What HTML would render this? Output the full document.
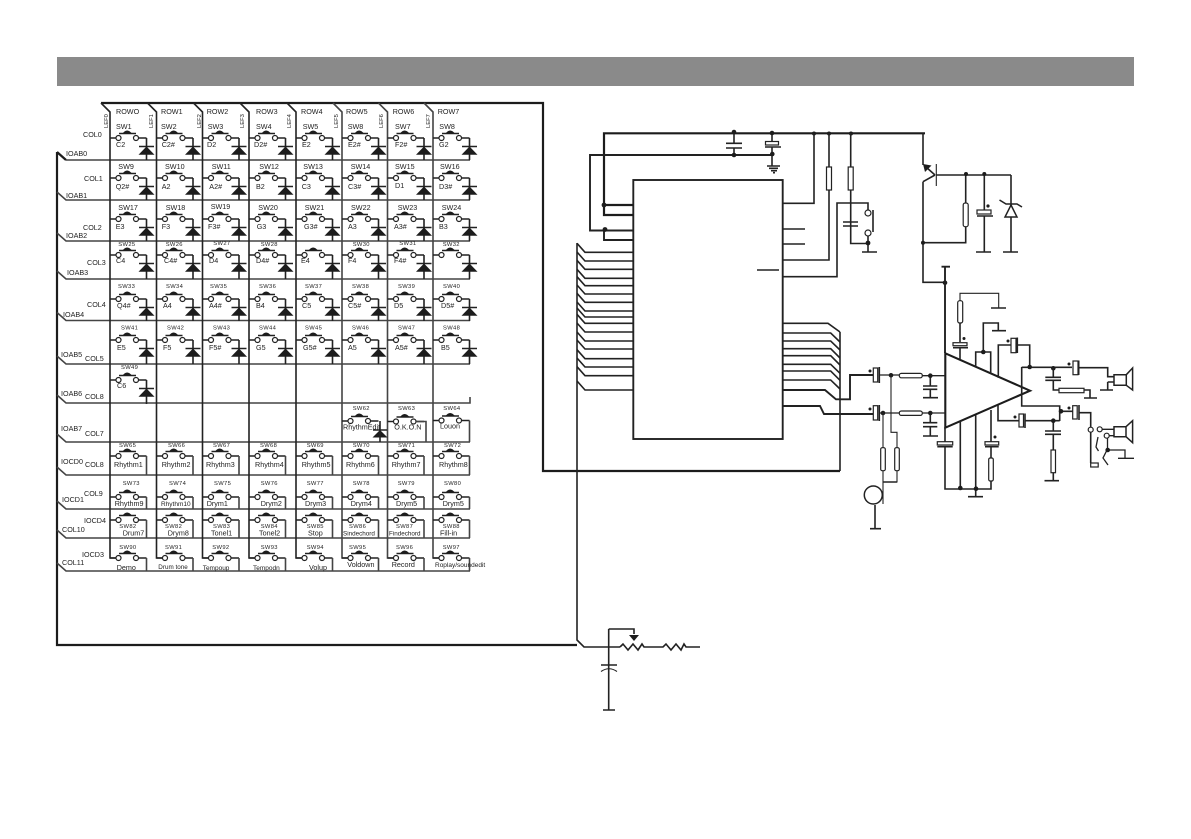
<!DOCTYPE html>
<html><head><meta charset="utf-8"><title>Schematic</title>
<style>
html,body{margin:0;padding:0;background:#fff}
svg{display:block}
text{font-family:"Liberation Sans",sans-serif;font-size:7.2px;fill:#222}
.m{font-size:5.8px;letter-spacing:.35px}
.v{font-size:5.8px}
.w{fill:none;stroke:#222;stroke-width:1.6}
.g{fill:none;stroke:#444;stroke-width:1.6}
.h{fill:none;stroke:#222;stroke-width:1.1}
.t{fill:none;stroke:#1c1c1c;stroke-width:2.2}
.f{fill:#1c1c1c;stroke:none}
.o{fill:#fff;stroke:#222;stroke-width:1.2}
</style></head><body>
<svg width="1191" height="839" viewBox="0 0 1191 839" xmlns="http://www.w3.org/2000/svg">
<defs>
<g id="n0"><path class="w" d="M0 0H6M28.500 0H36.500"/><circle class="o" cx="8.500" cy="0" r="2.500"/><circle class="o" cx="26" cy="0" r="2.500"/><path class="w" d="M9 -4.500H26"/><path class="f" d="M12.500 -4.500Q17 -10.500 22 -4.500Z"/></g>
<g id="s22"><use href="#n0"/><path class="w" d="M36.500 0V22M29 8.500H44"/><path class="f" d="M36.500 8.500L44.500 16.800H28.500Z"/></g>
<g id="s24"><use href="#n0"/><path class="w" d="M36.500 0V24M29 8.500H44"/><path class="f" d="M36.500 8.500L44.500 16.800H28.500Z"/></g>
<g id="n19"><use href="#n0"/><path class="g" d="M36.500 0V19"/></g>
<g id="n12"><use href="#n0"/><path class="g" d="M36.500 0V12"/></g>
<g id="n18"><use href="#n0"/><path class="g" d="M36.500 0V18"/></g>
<g id="n13"><use href="#n0"/><path class="g" d="M36.500 0V13"/></g>
</defs>
<rect width="1191" height="839" fill="#fff"/>
<rect x="57" y="57" width="1077" height="29" fill="#8a8a8a"/>

<!-- matrix frame -->
<path class="t" d="M101 103H543V471H840M57 152V645H577M57 152L66 160"/>
<path class="g" d="M66 160H470M57 192L66 200H470M57 233L66 241H470M57 271L66 279H470M57 312.500L66 320.500H470M57 356L66 364H470M57 395L66 403H470V397M57 434L66 442H470M57 467L66 475H470M57 501L66 509H470M57 530L66 538H470M57 563L66 571H470"/>
<path class="w" d="M101 103L110 112V558H117M147.500 103L156.500 112V558H164M193.500 103L202.500 112V558H210M240 103L249 112V558H256M287 103L296 112V558H302"/>
<path class="g" d="M333 103L342 112V558H350M378.500 103L387.500 112V558H395M424 103L433 112V558H440"/>

<text x="116" y="114">ROWO</text><text x="161" y="114">ROW1</text><text x="206.700" y="114">ROW2</text><text x="256" y="114">ROW3</text><text x="301" y="114">ROW4</text><text x="346" y="114">ROW5</text><text x="392.700" y="114">ROW6</text><text x="437.700" y="114">ROW7</text>
<text class="v" transform="translate(108,128) rotate(-90)">LEF0</text>
<text class="v" transform="translate(153,128) rotate(-90)">LEF1</text>
<text class="v" transform="translate(201,128) rotate(-90)">LEF2</text>
<text class="v" transform="translate(244,128) rotate(-90)">LEF3</text>
<text class="v" transform="translate(291,128) rotate(-90)">LEF4</text>
<text class="v" transform="translate(338,128) rotate(-90)">LEF5</text>
<text class="v" transform="translate(383,128) rotate(-90)">LEF6</text>
<text class="v" transform="translate(430,128) rotate(-90)">LEF7</text>

<text x="83" y="137">COL0</text><text x="66" y="156">IOAB0</text>
<text x="84" y="181">COL1</text><text x="66" y="198">IOAB1</text>
<text x="83" y="230">COL2</text><text x="66" y="238">IOAB2</text>
<text x="87" y="265">COL3</text><text x="67" y="275">IOAB3</text>
<text x="87" y="307">COL4</text><text x="63" y="317">IOAB4</text>
<text x="85" y="361">COL5</text><text x="61" y="357">IOAB5</text>
<text x="85" y="399">COL8</text><text x="61" y="396">IOAB6</text>
<text x="85" y="436">COL7</text><text x="61" y="431">IOAB7</text>
<text x="85" y="467">COL8</text><text x="61" y="464">IOCD0</text>
<text x="84" y="496">COL9</text><text x="62" y="502">IOCD1</text>
<text x="84" y="523">IOCD4</text><text x="62" y="532">COL10</text>
<text x="82" y="557">IOCD3</text><text x="62" y="565">COL11</text>

<!-- row 0 -->
<g transform="translate(0,138)">
<use href="#s22" x="110"/><use href="#s22" x="156.500"/><use href="#s22" x="202.500"/><use href="#s22" x="249"/><use href="#s22" x="296"/><use href="#s22" x="342"/><use href="#s22" x="387.500"/><use href="#s22" x="433"/>
<text x="116" y="-9">SW1</text><text x="161" y="-9">SW2</text><text x="207.700" y="-9">SW3</text><text x="256" y="-9">SW4</text><text x="302.700" y="-9">SW5</text><text x="347.700" y="-9">SW8</text><text x="395" y="-9">SW7</text><text x="439.300" y="-9">SW8</text>
<text x="116" y="9">C2</text><text x="161.700" y="9">C2#</text><text x="207" y="9">D2</text><text x="254" y="9">D2#</text><text x="302" y="9">E2</text><text x="348" y="9">E2#</text><text x="395" y="9">F2#</text><text x="439" y="9">G2</text>
</g>
<!-- row 1 -->
<g transform="translate(0,178)">
<use href="#s22" x="110"/><use href="#s22" x="156.500"/><use href="#s22" x="202.500"/><use href="#s22" x="249"/><use href="#s22" x="296"/><use href="#s22" x="342"/><use href="#s22" x="387.500"/><use href="#s22" x="433"/>
<text x="118.300" y="-9">SW9</text><text x="165" y="-9">SW10</text><text x="211.700" y="-9">SW11</text><text x="259.300" y="-9">SW12</text><text x="303.300" y="-9">SW13</text><text x="350.700" y="-9">SW14</text><text x="395" y="-9">SW15</text><text x="440" y="-9">SW16</text>
<text x="115.700" y="11">Q2#</text><text x="161.700" y="11">A2</text><text x="209.300" y="11">A2#</text><text x="256" y="11">B2</text><text x="301.700" y="11">C3</text><text x="348" y="11">C3#</text><text x="395" y="10">D1</text><text x="439" y="11">D3#</text>
</g>
<!-- row 2 -->
<g transform="translate(0,219)">
<use href="#s22" x="110"/><use href="#s22" x="156.500"/><use href="#s22" x="202.500"/><use href="#s22" x="249"/><use href="#s22" x="296"/><use href="#s22" x="342"/><use href="#s22" x="387.500"/><use href="#s22" x="433"/>
<text x="118.300" y="-9">SW17</text><text x="165.700" y="-9">SW18</text><text x="210.700" y="-10">SW19</text><text x="258.300" y="-9">SW20</text><text x="304.700" y="-9">SW21</text><text x="351" y="-9">SW22</text><text x="397.700" y="-9">SW23</text><text x="441.700" y="-9">SW24</text>
<text x="115.700" y="10">E3</text><text x="161.700" y="10">F3</text><text x="208" y="10">F3#</text><text x="256.700" y="10">G3</text><text x="304" y="10">G3#</text><text x="348" y="10">A3</text><text x="394" y="10">A3#</text><text x="439" y="10">B3</text>
</g>
<!-- row 3 -->
<g transform="translate(0,255)">
<use href="#s24" x="110"/><use href="#s24" x="156.500"/><use href="#s24" x="202.500"/><use href="#s24" x="249"/><use href="#s24" x="296"/><use href="#s24" x="342"/><use href="#s24" x="387.500"/><use href="#s24" x="433"/>
<text class="m" x="118.300" y="-9">SW25</text><text class="m" x="165.700" y="-9">SW26</text><text class="m" x="213.300" y="-10">SW27</text><text class="m" x="260.700" y="-9">SW28</text><text class="m" x="352.700" y="-9">SW30</text><text class="m" x="399.300" y="-10">SW31</text><text class="m" x="442.700" y="-9">SW32</text>
<text x="116" y="8">C4</text><text x="164" y="8">C4#</text><text x="209" y="8">D4</text><text x="256" y="8">D4#</text><text x="301" y="8">E4</text><text x="348" y="8">F4</text><text x="394" y="8">F4#</text>
</g>
<!-- row 4 -->
<g transform="translate(0,299)">
<use href="#s22" x="110"/><use href="#s22" x="156.500"/><use href="#s22" x="202.500"/><use href="#s22" x="249"/><use href="#s22" x="296"/><use href="#s22" x="342"/><use href="#s22" x="387.500"/><use href="#s22" x="433"/>
<text class="m" x="118" y="-11">SW33</text><text class="m" x="166" y="-11">SW34</text><text class="m" x="210" y="-11">SW35</text><text class="m" x="259" y="-11">SW36</text><text class="m" x="305" y="-11">SW37</text><text class="m" x="352" y="-11">SW38</text><text class="m" x="398" y="-11">SW39</text><text class="m" x="443" y="-11">SW40</text>
<text x="117" y="9">Q4#</text><text x="163" y="9">A4</text><text x="209" y="9">A4#</text><text x="256" y="9">B4</text><text x="302" y="9">C5</text><text x="348" y="9">C5#</text><text x="394" y="9">D5</text><text x="441" y="9">D5#</text>
</g>
<!-- row 5 -->
<g transform="translate(0,340)">
<use href="#s24" x="110"/><use href="#s24" x="156.500"/><use href="#s24" x="202.500"/><use href="#s24" x="249"/><use href="#s24" x="296"/><use href="#s24" x="342"/><use href="#s24" x="387.500"/><use href="#s24" x="433"/>
<text class="m" x="121" y="-10.500">SW41</text><text class="m" x="167" y="-10.500">SW42</text><text class="m" x="213" y="-10.500">SW43</text><text class="m" x="259" y="-10.500">SW44</text><text class="m" x="305" y="-10.500">SW45</text><text class="m" x="352" y="-10.500">SW46</text><text class="m" x="398" y="-10.500">SW47</text><text class="m" x="443" y="-10.500">SW48</text>
<text x="117" y="10">E5</text><text x="163" y="10">F5</text><text x="209" y="10">F5#</text><text x="256" y="10">G5</text><text x="303" y="10">G5#</text><text x="348" y="10">A5</text><text x="395" y="10">A5#</text><text x="441" y="10">B5</text>
</g>
<!-- row 6 -->
<g transform="translate(0,380)"><use href="#s24" x="110"/><text class="m" x="121" y="-11">SW49</text><text x="117" y="8">C6</text></g>
<!-- row 7 -->
<text x="343" y="429.300">RhythmEdit</text>
<g transform="translate(342,421)"><use href="#n0"/><path class="f" d="M38 9L45.500 16.500H30.500Z"/><path class="w" d="M38 0V21M31 9H45"/></g>
<g transform="translate(387.500,421.500)"><use href="#n0"/><path class="g" d="M28.500 0H38.500V20.500"/></g>
<g transform="translate(433,420.500)"><use href="#n0"/><path class="g" d="M36.500 0V21.500"/></g>
<text class="m" x="352.700" y="410">SW62</text><text class="m" x="398" y="410">SW63</text><text class="m" x="443.300" y="410">SW64</text>
<text x="394.300" y="429.300">O.K.O.N</text><text x="440" y="428.300">Louon</text>
<!-- row 8 -->
<g transform="translate(0,456)">
<use href="#n19" x="110"/><use href="#n19" x="156.500"/><use href="#n19" x="202.500"/><use href="#n19" x="249"/><use href="#n19" x="296"/><use href="#n19" x="342"/><use href="#n19" x="387.500"/><use href="#n19" x="433"/>
<text class="m" x="119" y="-9">SW65</text><text class="m" x="168" y="-9">SW66</text><text class="m" x="213" y="-9">SW67</text><text class="m" x="260" y="-9">SW68</text><text class="m" x="306.700" y="-9">SW69</text><text class="m" x="352.700" y="-9">SW70</text><text class="m" x="398" y="-9">SW71</text><text class="m" x="444" y="-9">SW72</text>
<text x="114" y="11">Rhythm1</text><text x="161.700" y="11">Rhythm2</text><text x="206" y="11">Rhythm3</text><text x="255" y="11">Rhythm4</text><text x="301.700" y="11">Rhythm5</text><text x="346" y="11">Rhythm6</text><text x="391.700" y="11">Rhythm7</text><text x="439" y="11">Rhythm8</text>
</g>
<!-- row 9 -->
<g transform="translate(0,497)">
<use href="#n12" x="110"/><use href="#n12" x="156.500"/><use href="#n12" x="202.500"/><use href="#n12" x="249"/><use href="#n12" x="296"/><use href="#n12" x="342"/><use href="#n12" x="387.500"/><use href="#n12" x="433"/>
<text class="m" x="122.700" y="-12">SW73</text><text class="m" x="169" y="-12">SW74</text><text class="m" x="214" y="-12">SW75</text><text class="m" x="260.700" y="-12">SW76</text><text class="m" x="306.700" y="-12">SW77</text><text class="m" x="352.700" y="-12">SW78</text><text class="m" x="397.700" y="-12">SW79</text><text class="m" x="444" y="-12">SW80</text>
<text x="114.700" y="9">Rhythm9</text><text x="161" y="9" style="font-size:6.500px">Rhythm10</text><text x="206.700" y="9">Drym1</text><text x="260.700" y="9">Drym2</text><text x="305" y="9">Drym3</text><text x="350.700" y="9">Drym4</text><text x="396" y="9">Drym5</text><text x="442.700" y="9">Drym5</text>
</g>
<!-- row 10 -->
<g transform="translate(0,520)">
<use href="#n18" x="110"/><use href="#n18" x="156.500"/><use href="#n18" x="202.500"/><use href="#n18" x="249"/><use href="#n18" x="296"/><use href="#n18" x="342"/><use href="#n18" x="387.500"/><use href="#n18" x="433"/>
<text class="m" x="119.300" y="8">SW82</text><text class="m" x="165" y="8">SW82</text><text class="m" x="213" y="8">SW83</text><text class="m" x="260.700" y="8">SW84</text><text class="m" x="306.700" y="8">SW85</text><text class="m" x="349" y="8">SW86</text><text class="m" x="396" y="8">SW87</text><text class="m" x="442.700" y="8">SW88</text>
<text x="122.700" y="15.700">Drum7</text><text x="167.700" y="15.700">Drym8</text><text x="211" y="15.700">Tonel1</text><text x="259" y="15.700">Tonel2</text><text x="308" y="15.700">Stop</text><text x="343" y="15.700" style="font-size:6.300px">Sindechord</text><text x="389" y="15.700" style="font-size:6.300px">Findechord</text><text x="440" y="15.700">Fill-in</text>
</g>
<!-- row 11 -->
<g transform="translate(0,558)">
<use href="#n13" x="110"/><use href="#n13" x="156.500"/><use href="#n13" x="202.500"/><use href="#n13" x="249"/><use href="#n13" x="296"/><use href="#n13" x="342"/><use href="#n13" x="387.500"/><use href="#n13" x="433"/>
<text class="m" x="119.300" y="-9">SW90</text><text class="m" x="165" y="-9">SW91</text><text class="m" x="212.300" y="-9">SW92</text><text class="m" x="260.700" y="-9">SW93</text><text class="m" x="306.700" y="-9">SW94</text><text class="m" x="349" y="-9">SW95</text><text class="m" x="396" y="-9">SW96</text><text class="m" x="442.700" y="-9">SW97</text>
<text x="116.700" y="12">Demo</text><text x="158.300" y="11" style="font-size:6.300px">Drum tone</text><text x="202.700" y="12" style="font-size:6.500px">Tempoup</text><text x="253" y="12" style="font-size:6.500px">Tempodn</text><text x="309" y="12">Volup</text><text x="347.300" y="9">Voldown</text><text x="391.700" y="9">Record</text><text x="435" y="9" style="font-size:6.500px">Roplay/soundedit</text>
</g>

<!-- left bus down + pot -->
<path class="w" d="M577 243V640L584 647H620"/>
<path class="w" d="M620 647L623 644L628 650L633 644L638 650L642 644L644 647H663L666 644L671 650L676 644L681 650L684 644L686 647H700"/>
<path class="w" d="M608.700 629V710M608.700 629H634V634M601 665H617M603 710H615"/>
<path class="h" d="M601 671.500Q609 666 617 671.500"/>
<path class="f" d="M629 635H639L634 641Z"/>

<!-- chip -->
<rect x="633.300" y="180" width="149.400" height="259" fill="none" stroke="#222" stroke-width="1.900"/>
<path class="t" d="M925 133.300H604V215H633M604 205H633"/>
<path class="w" d="M633 230.500H590V155H773M604 230V240H633" style="stroke-width:1.900"/>
<path class="w" d="M734 133V143M734 148V155M726 143.300H742M726 148H742"/>
<path class="w" d="M772 133V141.500M772 147V166M765 147H781"/>
<rect class="o" x="765.500" y="141.500" width="13" height="3.500"/>
<path class="w" d="M767 166H780M769 168.300H778M771 170.700H777M773 172.700H775"/>
<circle class="f" cx="604" cy="205" r="2.400"/><circle class="f" cx="605" cy="229.500" r="2.400"/><circle class="f" cx="734" cy="132" r="2.300"/><circle class="f" cx="734" cy="155" r="2.300"/><circle class="f" cx="772" cy="133" r="2.300"/><circle class="f" cx="772.300" cy="154" r="2.300"/>
<circle class="f" cx="814" cy="133.500" r="2"/><circle class="f" cx="829" cy="133.500" r="2"/><circle class="f" cx="851" cy="133.500" r="2"/>
<!-- right pins top -->
<path class="w" d="M783 203.300H814V133M783 229H805M783 244H805M783 260H829V133M783 276.700H837V203H868V210M868 236V252M757 270H779"/>
<path class="w" d="M850.700 133V243.500H868M843 222H858M843 226H858M862 252H877"/>
<path class="w" d="M873 210V232"/>
<rect class="o" x="826.500" y="167" width="5" height="23"/><rect class="o" x="848.200" y="167" width="5" height="23"/>
<circle class="o" cx="868" cy="213" r="3"/><circle class="o" cx="868" cy="233" r="3"/><circle class="f" cx="868" cy="243" r="2.400"/>
<!-- left pin bundle -->
<path class="w" d="M577 243.300L585 252.300H633M577 252L585 261H633M577 260.300L585 269.300H633M577 269.300L585 278.300H633M577 276.700L585 285.700H633M577 285L585 294H633M577 293.300L585 302.300H633M577 302L585 311H633M577 308L585 317H633M577 314.300L585 323.300H633M577 323L585 332H633M577 332L585 341H633M577 340L585 349H633M577 349.700L585 358.700H633M577 358L585 367H633M577 366.700L585 375.700H633M577 381L585 390H633"/>
<!-- right pin bundle -->
<path class="w" d="M783 323.300H828L840 332M783 333H830.700L840 342M783 341H830.700L840 350M783 348.700H830.700L840 358M783 355.700H830.700L840 365M783 364.300H830.700L840 373.300M783 371H830.700L840 380.300M783 380H830.700L840 389"/>
<path class="w" d="M840 332V471"/>
<path class="w" d="M783 390H825L836 399.300H850V375H873M783 406H820L824 414H873" style="stroke-width:1.900"/>

<!-- transistor & regulator -->
<path class="w" d="M923 133V165M923 181.700V282.300H945M923 181.700L935 175M935 175L926 167M936.300 175H1011"/>
<path class="h" d="M936.300 164V186"/>
<path class="f" d="M923 164L931.500 165.500L925 172Z"/>
<path class="w" d="M965.700 174V203M965.700 226.700V242.700H923M984.300 174V210M984.300 216V252M977 216H993M976 252H991M1011 175V252M1003 252H1018M999.500 200L1006 204H1017L1022 207"/>
<rect class="o" x="963.200" y="203" width="5" height="23.700" rx="2"/>
<rect class="o" x="977" y="210" width="14" height="4"/>
<path d="M1011 205L1017 217H1005Z" fill="#fff" stroke="#222" stroke-width="1.500"/>
<circle class="f" cx="966" cy="174" r="2"/><circle class="f" cx="984.300" cy="174" r="2"/><circle class="f" cx="923" cy="242.700" r="2"/><circle class="f" cx="988" cy="206" r="1.600"/><circle class="f" cx="945" cy="282.700" r="2.300"/>

<!-- amplifier -->
<path class="w" d="M945 267V353M941.500 266.700H950" style="stroke-width:1.900"/>
<path d="M945.300 353.300L1030 390.700L945.300 427.700Z" fill="#fff" stroke="#1c1c1c" stroke-width="2.100"/>
<path class="h" d="M960 308V293.300H998.700V308"/>
<path class="w" d="M991 308H1006M960 323V342M960 348V360M953 347.700H968M983.300 352V323H998.300V330.700M992 330.700H1006M975.700 367V352H990.700V373.500"/>
<rect class="o" x="957.700" y="300.700" width="5" height="22.300" rx="2"/>
<rect class="o" x="953" y="342.700" width="14" height="3"/>
<circle class="f" cx="964" cy="338.500" r="1.500"/><circle class="f" cx="983.300" cy="352" r="2.300"/>
<path class="w" d="M998.300 377.700V345H1011M1017.300 345H1029.700V367M1017.300 337.500V353M1021.700 367V406H1059.700V421M1021.700 367.300H1072M1079 367.700H1107.700V376.700H1114M1107.700 382V390M1107.700 382H1114M1100 390H1113"/>
<rect class="o" x="1011" y="338.300" width="5" height="14.400"/>
<rect class="o" x="1073" y="361" width="5" height="13.700"/>
<path class="w" d="M1078.700 360.500V375"/>
<circle class="f" cx="1008" cy="341" r="1.500"/><circle class="f" cx="1069" cy="364" r="1.500"/><circle class="f" cx="1029.700" cy="367" r="2.300"/><circle class="f" cx="1053.300" cy="368.300" r="2.300"/>
<path class="w" d="M1053.300 368V377.300M1045.300 377.300H1061M1045.300 380.300H1061M1053.300 380.300V390H1059M1084 390H1090V398M1084 398H1097"/>
<rect class="o" x="1059" y="388.300" width="25" height="4.400"/>
<path d="M1114 374.700H1126.300V385.300H1114ZM1126.300 374.700L1132.600 368V390L1126.300 385.300" fill="none" stroke="#222" stroke-width="1.500"/>
<!-- lower output -->
<path class="w" d="M998 405V420.700H1019M1025 420.700H1059.700M1025 413.500V428M1061 411.300H1072.700M1079 412.700H1090.700V427M1090.700 432.500V463M1053.300 420.700V431M1045 431H1061M1045 434.300H1061M1053.300 434.300V450M1053.300 472.700V481M1044.500 480.700H1059M1079 405V420"/>
<rect class="o" x="1019" y="414" width="4.500" height="13"/>
<rect class="o" x="1072.700" y="405.700" width="4.500" height="13.300"/>
<rect class="o" x="1051" y="450" width="4.500" height="22.700"/>
<rect class="o" x="1090.700" y="463" width="7.500" height="4"/>
<circle class="f" cx="1015" cy="417" r="1.500"/><circle class="f" cx="1069" cy="408" r="1.500"/><circle class="f" cx="1053.300" cy="420.700" r="2.300"/><circle class="f" cx="1061" cy="411.300" r="2.300"/>
<circle class="o" cx="1090.700" cy="429.700" r="2.500"/><circle class="o" cx="1099.700" cy="429.300" r="2.500"/><circle class="o" cx="1106.700" cy="435.700" r="2.500"/>
<path class="w" d="M1102 429.300H1114M1109 435.700H1114M1107.500 438V450H1125V458M1118 458.300H1134M1098 437L1096 447L1098.500 451M1107 450L1103 458L1108 465" style="stroke-width:1.300"/>
<circle class="f" cx="1107.700" cy="450" r="2.300"/>
<path d="M1114 426.700H1126V436.700H1114ZM1126 426.700L1132.600 420.700V442.700L1126 436.700" fill="none" stroke="#222" stroke-width="1.500"/>
<!-- inputs -->
<path class="w" d="M879.300 375H899.300M922.300 375.700H945M879.300 413H899.300M922.300 413H945" style="stroke-width:1.300"/>
<rect class="o" x="873.300" y="368" width="4.400" height="14"/><rect class="o" x="873.300" y="405.700" width="4.400" height="14.300"/>
<path class="w" d="M879.300 367V383M879.300 405V421"/>
<rect class="o" x="899.300" y="373.400" width="23" height="4.400" rx="2"/><rect class="o" x="899.300" y="411" width="23" height="4.400" rx="2"/>
<path class="w" d="M930.300 375.700V386M923 386H937.300M923 389.300H937.300M930.300 389.300V397.700M923 397.700H938M930.300 413V422.700M923 422.700H937.300M923 426.700H937.300M930.300 426.700V436M923 436H938"/>
<circle class="f" cx="891" cy="375.300" r="2.300"/><circle class="f" cx="883" cy="413" r="2.300"/><circle class="f" cx="930.300" cy="375.700" r="2.300"/><circle class="f" cx="930.300" cy="413" r="2.300"/><circle class="f" cx="870" cy="371" r="1.500"/><circle class="f" cx="870" cy="409" r="1.500"/>
<path class="h" d="M891 375V432.300H897V447.700M897 470.700V482H883M883 413V447.700M883 470.700V504"/>
<path class="w" d="M875 505V528.700M870 528.700H881M883 482H897"/>
<rect class="o" x="880.700" y="447.700" width="4.600" height="23" rx="1.500"/><rect class="o" x="894.700" y="447.700" width="4.600" height="23" rx="1.500"/>
<circle cx="873.300" cy="495" r="9" fill="#fff" stroke="#222" stroke-width="1.500"/>
<!-- bottom -->
<path class="w" d="M945 427V441.700M945 447V489H991V481M960.300 421V489M975.700 415V496.700M968 496.700H983M991 410V441.700M991 447V458M937.300 446.700H952.700M985 446.700H998.700"/>
<rect class="o" x="937.300" y="441.700" width="15.400" height="3.300"/><rect class="o" x="985" y="441.700" width="13.700" height="3.300"/>
<rect class="o" x="988.700" y="458" width="4.600" height="23" rx="1.500"/>
<circle class="f" cx="960.300" cy="488" r="2.300"/><circle class="f" cx="976" cy="488.700" r="2.300"/><circle class="f" cx="995" cy="437" r="1.500"/>
</svg>
</body></html>
